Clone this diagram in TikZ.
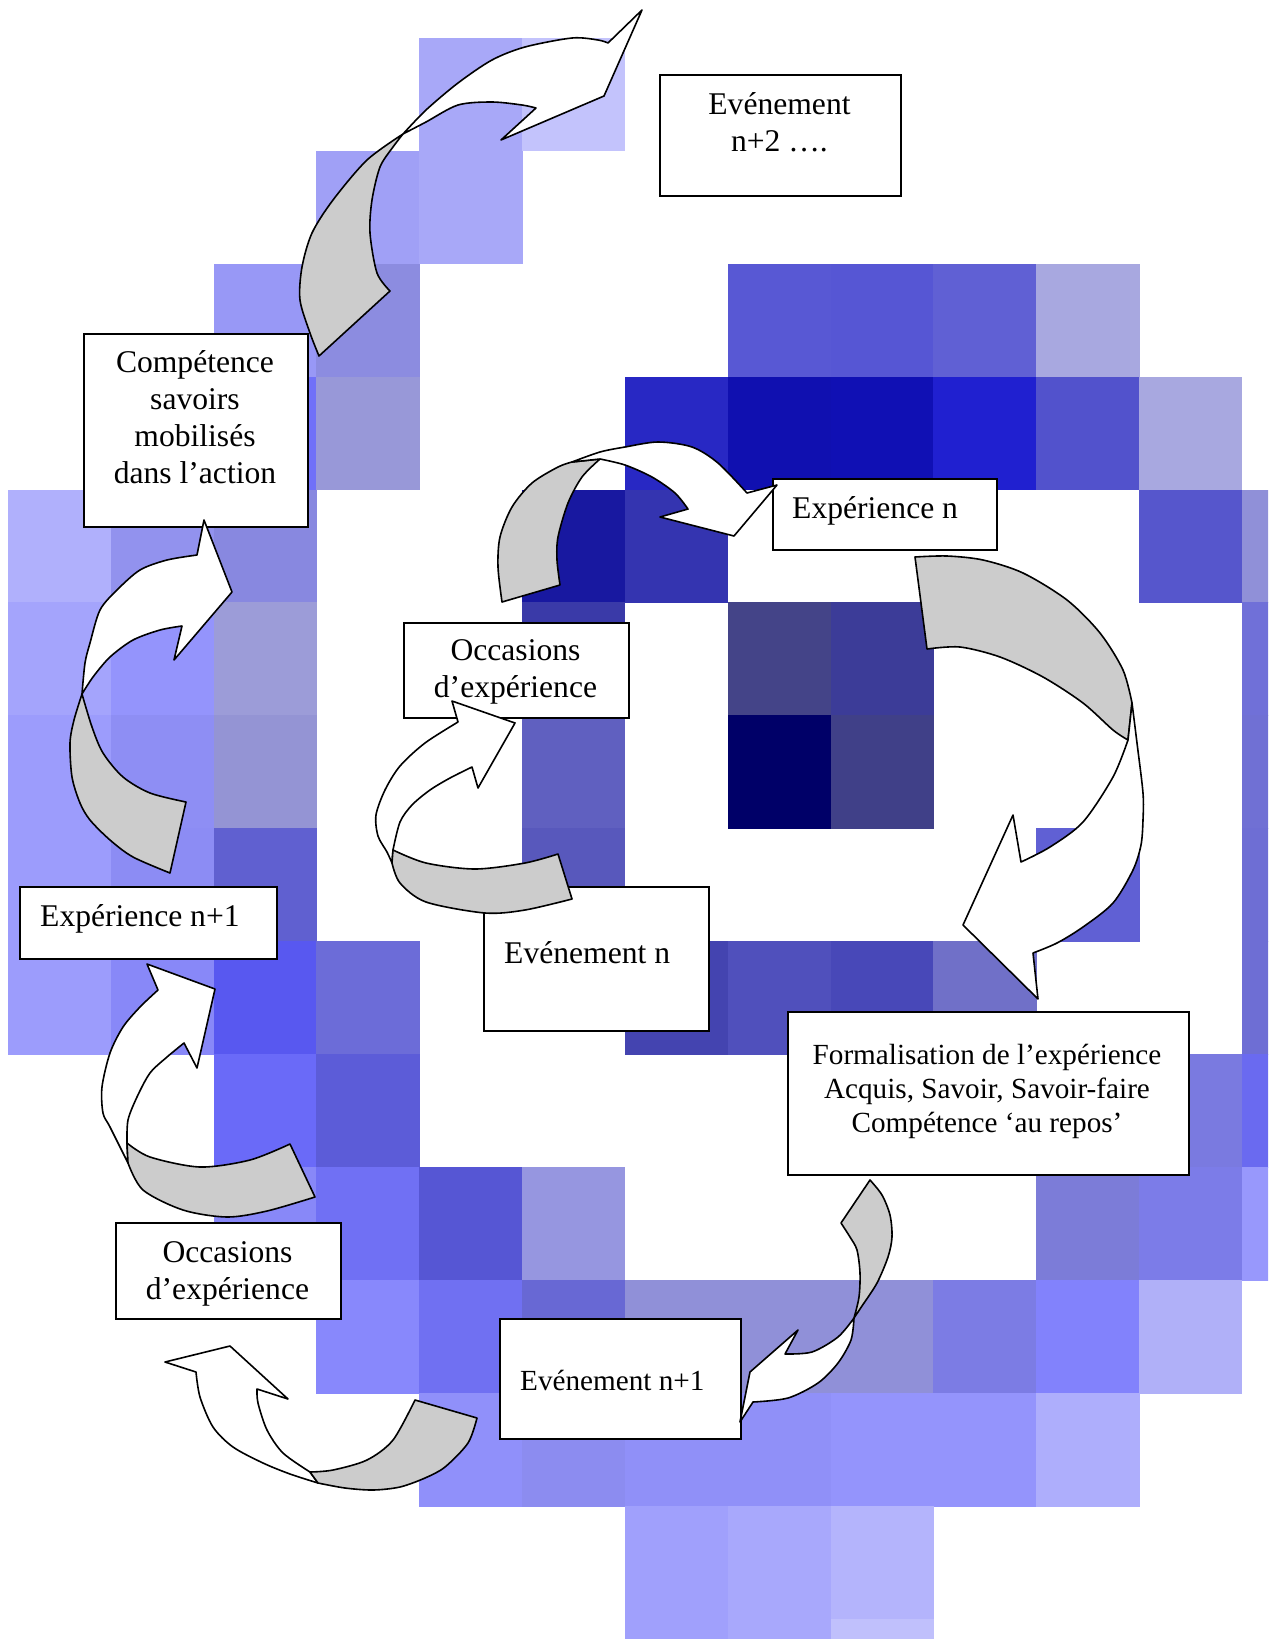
\documentclass[tikz,border=0pt]{standalone}
\usepackage{fontspec}
\setmainfont{Liberation Serif}
\definecolor{backgrey}{HTML}{CCCCCC}
\newcommand\mainsize{\fontsize{31.6}{37}\selectfont}
\newcommand\smallsize{\fontsize{29.2}{34}\selectfont}
% one square of the mosaic: column, row, colour
\newcommand\tile[3]{\definecolor{tilecol}{HTML}{#3}\fill[tilecol] ({8+102.83*#1},{37.7+112.95*#2}) rectangle +(103.3,113.4);}
\newcommand\lines[1]{\begin{tabular}[t]{@{}c@{}}#1\end{tabular}}
\begin{document}
\begin{tikzpicture}[x=1pt,y=-1pt,
  box/.style={draw=black, line width=1.8pt, fill=white, inner sep=0pt, anchor=north west},
  txt/.style={inner sep=0pt, font=\mainsize},
  txts/.style={inner sep=0pt, font=\smallsize},
  front/.style={fill=white, draw=black, line width=1.6pt, line join=round},
  back/.style={fill=backgrey, draw=black, line width=1.6pt, line join=round}]
\useasboundingbox (0,0) rectangle (1276,1639);

% ---- mosaic background ----
\begin{scope}
\clip (0,0) rectangle (1268,1639);
\tile{4}{0}{A8A8F8}\tile{5}{0}{C3C3FC}
\tile{3}{1}{A0A0F6}\tile{4}{1}{A8A8F8}
\tile{2}{2}{9898F6}\tile{3}{2}{8C8CE0}\tile{7}{2}{5858D4}\tile{8}{2}{5656D4}\tile{9}{2}{6060D4}\tile{10}{2}{A8A8E0}
\tile{2}{3}{7070F8}\tile{3}{3}{9898D8}\tile{6}{3}{2828C4}\tile{7}{3}{1010B0}\tile{8}{3}{1010B4}\tile{9}{3}{2020D0}\tile{10}{3}{5252CC}\tile{11}{3}{A8A8E0}
\tile{0}{4}{B0B0FC}\tile{1}{4}{9292EE}\tile{2}{4}{8888E0}\tile{5}{4}{1818A0}\tile{6}{4}{3434B0}\tile{11}{4}{5656CC}\tile{12}{4}{9090D8}
\tile{0}{5}{A4A4FC}\tile{1}{5}{9494FC}\tile{2}{5}{9C9CD8}\tile{5}{5}{3A3AA8}\tile{7}{5}{444488}\tile{8}{5}{3C3C98}\tile{12}{5}{7070D8}
\tile{0}{6}{9C9CFC}\tile{1}{6}{8E8EF4}\tile{2}{6}{9494D4}\tile{5}{6}{6060C0}\tile{7}{6}{000068}\tile{8}{6}{404088}\tile{12}{6}{7070D4}
\tile{0}{7}{9C9CFC}\tile{1}{7}{8C8CF4}\tile{2}{7}{6060D0}\tile{5}{7}{5858BC}\tile{10}{7}{6060D4}\tile{12}{7}{6E6ED4}
\tile{0}{8}{9C9CFC}\tile{1}{8}{8888F8}\tile{2}{8}{5858F0}\tile{3}{8}{6C6CD8}\tile{6}{8}{4444B0}\tile{7}{8}{5050BC}\tile{8}{8}{4848B8}\tile{9}{8}{7070C8}\tile{12}{8}{6E6ED4}
\tile{2}{9}{6A6AF8}\tile{3}{9}{5C5CD8}\tile{11}{9}{7A7AE0}\tile{12}{9}{6A6AF0}
\tile{2}{10}{8888F8}\tile{3}{10}{7070F4}\tile{4}{10}{5656D4}\tile{5}{10}{9696E0}\tile{10}{10}{7C7CD8}\tile{11}{10}{7C7CE8}\tile{12}{10}{9898FC}
\tile{3}{11}{8888FC}\tile{4}{11}{7070F2}\tile{5}{11}{6868D4}\tile{6}{11}{9090D8}\tile{7}{11}{9090D8}\tile{8}{11}{9090D8}\tile{9}{11}{7C7CE4}\tile{10}{11}{8282FC}\tile{11}{11}{B0B0F8}
\tile{4}{12}{9090FA}\tile{5}{12}{8C8CF0}\tile{6}{12}{9090F8}\tile{7}{12}{9090F8}\tile{8}{12}{9494FC}\tile{9}{12}{9494FC}\tile{10}{12}{AEAEFC}
\tile{6}{13}{A0A0FC}\tile{7}{13}{A8A8FC}\tile{8}{13}{B4B4FC}
\tile{6}{14}{A0A0FC}\tile{7}{14}{A8A8FC}\tile{8}{14}{C0C0FC}
\end{scope}

% ---- text boxes ----
\node[box, minimum width=241pt, minimum height=121pt] (ev2) at (659,74) {};
\node[txt, anchor=base] (ev2t) at (779.5,114) {\lines{Evénement\\n+2 ….}};

\node[box, minimum width=224pt, minimum height=193pt] (comp) at (83,333) {};
\node[txt, anchor=base] (compt) at (195,372.5) {\lines{Compétence\\savoirs\\mobilisés\\dans l’action}};

\node[box, minimum width=224pt, minimum height=71pt] (expn) at (772,478) {};
\node[txt, anchor=base west] (expnt) at (792,518) {Expérience n};

\node[box, minimum width=225pt, minimum height=95pt] (occa) at (403,622) {};
\node[txt, anchor=base] (occat) at (515.5,660) {\lines{Occasions\\d’expérience}};

\node[box, minimum width=225pt, minimum height=144pt] (evn) at (483,886) {};
\node[txt, anchor=base west] (evnt) at (504,963) {Evénement n};

\node[box, minimum width=401pt, minimum height=163pt] (form) at (787,1011) {};
\node[txts, anchor=base] (formt) at (987,1064) {\lines{Formalisation de l’expérience\\Acquis, Savoir, Savoir-faire\\Compétence ‘au repos’}};

\node[box, minimum width=257pt, minimum height=72pt] (expa) at (19,886) {};
\node[txt, anchor=base west] (expat) at (40,926) {Expérience n+1};

\node[box, minimum width=225pt, minimum height=96pt] (occb) at (115,1222) {};
\node[txt, anchor=base] (occbt) at (227.5,1262) {\lines{Occasions\\d’expérience}};

\node[box, minimum width=241pt, minimum height=120pt] (eva) at (499,1318) {};
\node[txts, anchor=base west] (evat) at (520,1390) {Evénement n+1};

% ---- curved block arrows (grey back face, white front face) ----
% Compétence -> Evénement n+2
\filldraw[back] plot[smooth] coordinates {(403,134) (367,160) (333,200) (312,233) (302,267) (300,300) (310,333) (319,356)} -- (390,291) -- plot[smooth] coordinates {(390,291) (377,273) (370,233) (372,200) (380,167) (393,147) (403,134)} -- cycle;
\filldraw[front] plot[smooth] coordinates {(403,134) (426,110) (458,83) (492,60) (525,47) (572,38) (598,40) (608,43)} -- (642,10) -- (604,96) -- (501,140) -- (536,108) -- plot[smooth] coordinates {(536,108) (522,105) (492,102) (458,105) (426,122) (403,134)} -- cycle;

% Expérience n+1 -> Compétence
\filldraw[back] plot[smooth] coordinates {(82,694) (74,720) (70,743) (72,777) (80,803) (90,820) (110,840) (133,857) (170,873)} -- (186,802) -- plot[smooth] coordinates {(186,802) (150,793) (123,777) (103,753) (92,727) (82,694)} -- cycle;
\filldraw[front] plot[smooth] coordinates {(82,694) (85,663) (90,643) (100,610) (117,590) (140,570) (167,560) (197,555)} -- (204,520) -- (232,592) -- (174,660) -- (182,626) -- plot[smooth] coordinates {(182,626) (160,630) (133,640) (110,657) (93,677) (82,694)} -- cycle;

% Occasions (lower) -> Expérience n+1
\filldraw[front] plot[smooth] coordinates {(128,1163) (110,1127) (103,1113) (102,1087) (110,1053) (123,1027) (140,1007) (158,990)} -- (147,964) -- (215,989) -- (197,1068) -- (184,1043) -- plot[smooth] coordinates {(184,1043) (167,1057) (150,1073) (137,1097) (128,1120) (127,1143)} -- cycle;
\filldraw[back] plot[smooth] coordinates {(127,1143) (150,1157) (200,1167) (250,1160) (290,1144)} -- (315,1197) -- plot[smooth] coordinates {(315,1197) (267,1211) (227,1217) (183,1210) (143,1190) (128,1163)} -- cycle;

% Evénement n+1 -> Occasions (lower)
\filldraw[front] plot[smooth] coordinates {(318,1483) (290,1474) (263,1463) (233,1447) (213,1427) (200,1397) (196,1372)} -- (165,1362) -- (230,1346) -- (288,1399) -- (257,1389) -- plot[smooth] coordinates {(257,1389) (258,1403) (267,1430) (283,1453) (310,1472)} -- cycle;
\filldraw[back] plot[smooth] coordinates {(310,1472) (333,1470) (367,1460) (393,1440) (415,1400)} -- (477,1418) -- plot[smooth] coordinates {(477,1418) (468,1443) (445,1467) (425,1478) (400,1487) (373,1490) (345,1488) (318,1483)} -- cycle;

% Formalisation -> Evénement n+1
\filldraw[back] (841,1223) -- plot[smooth] coordinates {(870,1180) (882,1195) (890,1215) (892,1237) (888,1257) (877,1283) (862,1306) (854,1318)} -- plot[smooth] coordinates {(854,1318) (859,1297) (860,1273) (857,1250) (850,1237) (841,1223)} -- cycle;
\filldraw[front] plot[smooth] coordinates {(854,1318) (851,1340) (838,1363) (818,1383) (788,1398) (753,1402)} -- (740,1422) -- (750,1372) -- (798,1330) -- (785,1354) -- plot[smooth] coordinates {(785,1354) (812,1352) (838,1337) (854,1318)} -- cycle;

% Expérience n -> Formalisation
\filldraw[back] plot[smooth] coordinates {(915,557) (947,556) (983,560) (1023,573) (1067,600) (1100,633) (1123,670) (1132,703)} -- (1128,740) -- plot[smooth] coordinates {(1128,740) (1113,730) (1083,703) (1043,677) (1000,657) (960,647) (927,649)} -- cycle;
\filldraw[front] plot[smooth] coordinates {(1132,703) (1137,743) (1143,793) (1143,820) (1141,845) (1133,870) (1113,903) (1083,927) (1057,943) (1033,953)} -- (1038,999) -- (963,925) -- (1013,815) -- (1021,862) -- plot[smooth] coordinates {(1021,862) (1050,847) (1083,822) (1113,777) (1128,740)} -- cycle;

% Occasions (upper) -> Expérience n
\filldraw[back] plot[smooth] coordinates {(572,462) (558,467) (532,483) (512,507) (500,537) (498,567) (502,602)} -- (560,585) -- plot[smooth] coordinates {(560,585) (557,560) (558,537) (568,503) (582,477) (600,459)} -- cycle;
\filldraw[front] plot[smooth] coordinates {(572,462) (600,452) (625,447) (658,442) (692,447) (718,463) (747,493)} -- (777,485) -- (734,536) -- (660,517) -- (688,509) -- plot[smooth] coordinates {(688,509) (675,493) (652,477) (625,465) (600,459)} -- cycle;

% Evénement n -> Occasions (upper)
\filldraw[front] plot[smooth] coordinates {(392,863) (387,852) (378,836) (376,815) (385,790) (400,766) (425,743) (458,722)} -- (452,701) -- (515,723) -- (478,788) -- (472,767) -- plot[smooth] coordinates {(472,767) (450,778) (430,790) (412,805) (400,822) (393,850)} -- cycle;
\filldraw[back] plot[smooth] coordinates {(393,850) (426,863) (475,869) (525,863) (558,854)} -- (572,899) -- plot[smooth] coordinates {(572,899) (525,910) (485,913) (426,902) (400,883) (392,863)} -- cycle;
\end{tikzpicture}
\end{document}
